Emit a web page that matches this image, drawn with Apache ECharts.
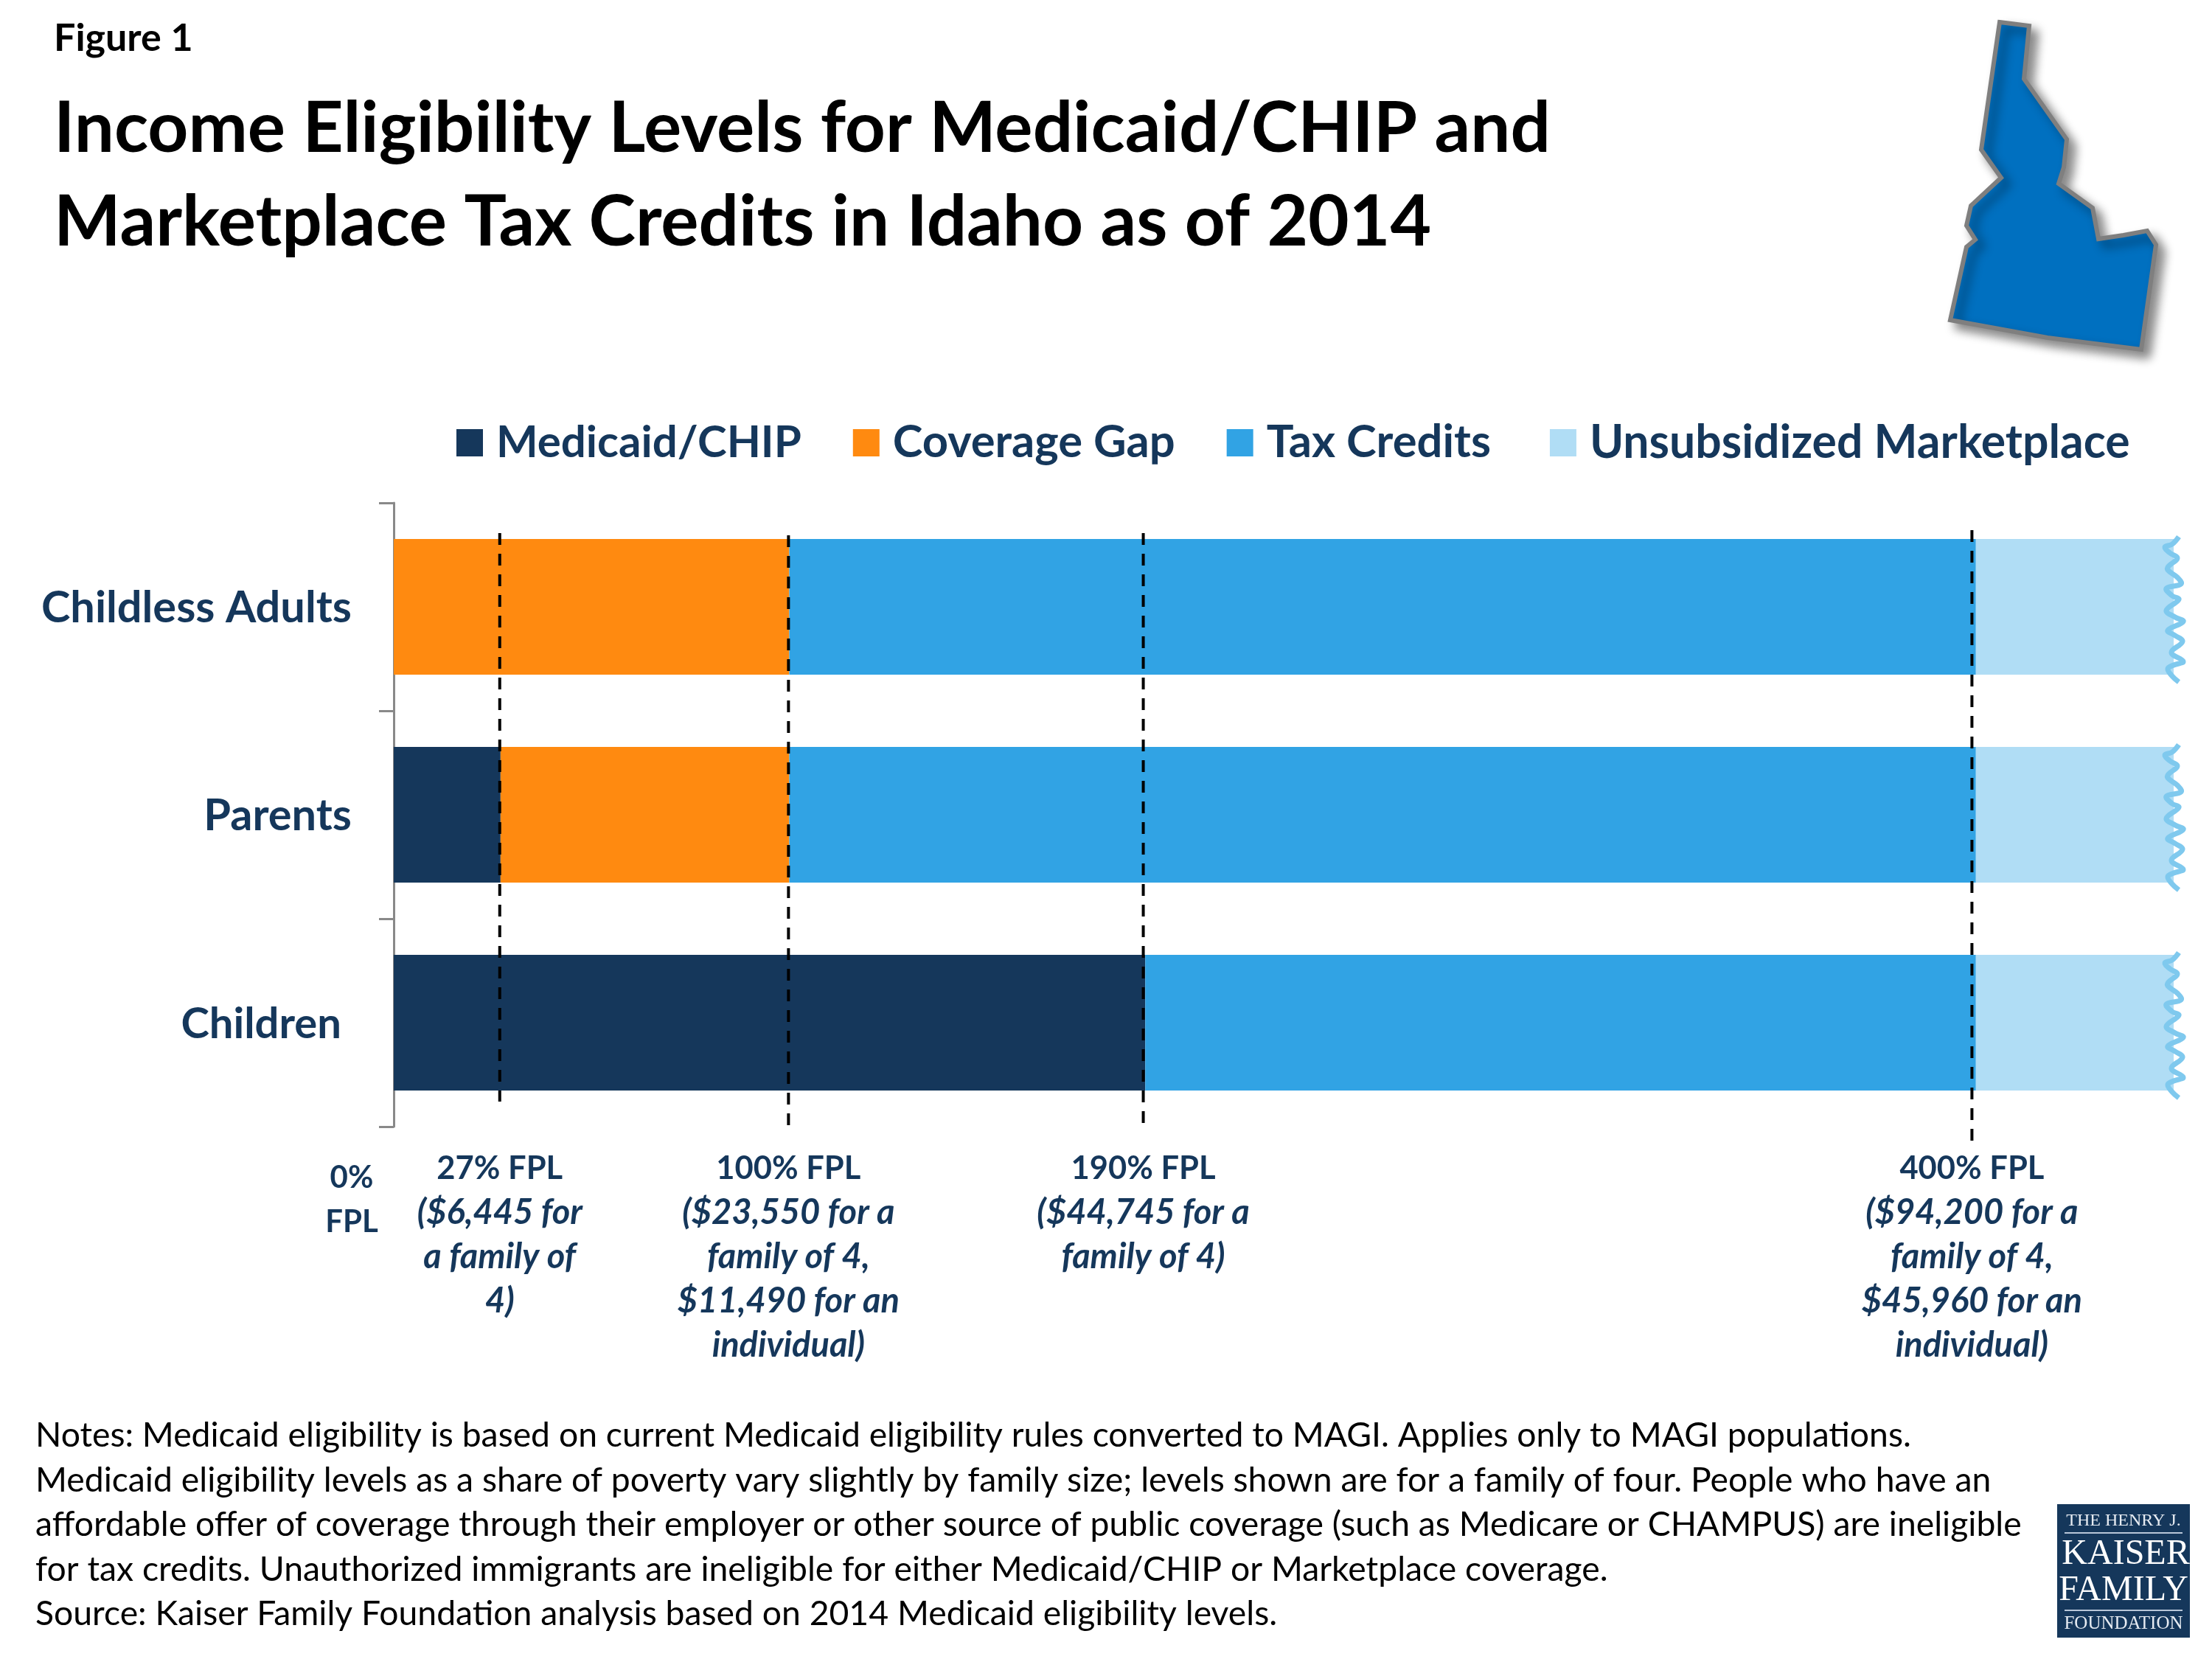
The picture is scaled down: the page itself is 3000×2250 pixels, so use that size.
<!DOCTYPE html>
<html>
<head>
<meta charset="utf-8">
<title>Figure 1</title>
<script src="https://cdn.jsdelivr.net/npm/echarts@6/dist/echarts.min.js"></script>
<style>
  html, body { margin: 0; padding: 0; background: #fff; }
  #chart { width: 3000px; height: 2250px; }
</style>
</head>
<body>
<div id="chart"></div>
<script>
const categories = ['Childless Adults', 'Parents', 'Children'];
const seriesNames = ['Medicaid/CHIP', 'Coverage Gap', 'Tax Credits', 'Unsubsidized Marketplace'];
const medicaid = [0, 27, 190];
const coverageGap = [100, 73, 0];
const taxCredits = [300, 300, 210];
const unsubsidized = [50, 50, 50];
const barEnd = [450, 450, 450];

// dashed lines sit a hair left of the bar edges in the original
const fplLines = [26.8, 99.8, 189.5, 399];
// line extents, counted in category rows from the top of the axis
const fplLineTop = [0.145, 0.156, 0.145, 0.131];
const fplLineBottom = [2.879, 2.993, 2.982, 3.067];
const fplHeads = ['27% FPL', '100% FPL', '190% FPL', '400% FPL'];
const fplDetails = [
  ['($6,445 for', 'a family of', '4)'],
  ['($23,550 for a', 'family of 4,', '$11,490 for an', 'individual)'],
  ['($44,745 for a', 'family of 4)'],
  ['($94,200 for a', 'family of 4,', '$45,960 for an', 'individual)']
];

const titleLines = ['Income Eligibility Levels for Medicaid/CHIP and', 'Marketplace Tax Credits in Idaho as of 2014'];
const noteLines = [
  'Notes: Medicaid eligibility is based on current Medicaid eligibility rules converted to MAGI. Applies only to MAGI populations.',
  'Medicaid eligibility levels as a share of poverty vary slightly by family size; levels shown are for a family of four. People who have an',
  'affordable offer of coverage through their employer or other source of public coverage (such as Medicare or CHAMPUS) are ineligible',
  'for tax credits. Unauthorized immigrants are ineligible for either Medicaid/CHIP or Marketplace coverage.',
  'Source: Kaiser Family Foundation analysis based on 2014 Medicaid eligibility levels.'
];

const NAVY = '#15375b';
const ORANGE = '#ff8a10';
const BLUE = '#31a3e4';
const LIGHT = '#b0ddf5';
const FONT = 'Lato';
const LABEL_FONT = 'Lato';

// torn edge of the last bar, px offsets from the bar end / row centre
const squiggleX = [7, -2, -12, -5, 5, -7, -8, 5, 10, -10, -2, 7, -10, 2, 13, -8, 2, 12, -3, 13, 0, -8, -2, 7];
const squiggleY = [-95, -85, -81, -73, -66, -55, -50, -40, -31, -25, -15, -10, 5, 14, 20, 32, 39, 47, 62, 74, 79, 84, 94, 102];

// outline of the state, px inside the top right corner box
const idahoX = [152, 192, 185, 243, 239, 232, 278, 286, 320, 352, 364, 344, 217, 85, 107, 119, 107, 113, 154, 127];
const idahoY = [30, 35, 107, 189, 227, 249, 282, 324, 319, 313, 332, 474, 458, 434, 335, 325, 306, 279, 241, 203];

function barSeries(name, values, color) {
  return {
    name: name,
    type: 'bar',
    stack: 'fpl',
    barWidth: 184,
    data: values,
    itemStyle: { color: color },
    z: 2
  };
}

const chart = echarts.init(document.getElementById('chart'), null, { renderer: 'canvas' });

const series = [
  barSeries(seriesNames[0], medicaid, NAVY),
  barSeries(seriesNames[1], coverageGap, ORANGE),
  barSeries(seriesNames[2], taxCredits, BLUE),
  barSeries(seriesNames[3], unsubsidized, LIGHT),
  {
    type: 'custom',
    silent: true,
    clip: false,
    z: 3,
    data: categories.map((c, i) => [barEnd[i], c]),
    encode: { x: 0, y: 1 },
    renderItem: function (params, api) {
      const end = api.coord([api.value(0), api.value(1)]);
      return {
        type: 'polyline',
        shape: { points: squiggleX.map((dx, k) => [end[0] + dx, end[1] + squiggleY[k]]), smooth: 0.4 },
        style: { stroke: '#7fc9ee', lineWidth: 7, lineJoin: 'round', fill: null }
      };
    }
  }
];

fplLines.forEach((v, i) => {
  series.push({
    type: 'line',
    yAxisIndex: 1,
    silent: true,
    clip: false,
    symbol: 'none',
    z: 4,
    data: [[v, fplLineTop[i]], [v, fplLineBottom[i]]],
    lineStyle: { color: '#000', width: 4, type: [16, 12] }
  });
});

const legendFontSizes = [60, 61.5, 61.5, 62.5];
const legendPadRight = [0, 0, 10, 0];

const option = {
  backgroundColor: '#fff',
  animation: false,
  title: [
    { text: 'Figure 1', left: 73, top: 26, padding: 0, textStyle: { fontFamily: FONT, fontWeight: 'bold', fontSize: 52, color: '#000' } },
    { text: titleLines.join('\n'), left: 73, top: 112, padding: 0, textStyle: { fontFamily: FONT, fontWeight: 'bold', fontSize: 96, lineHeight: 127, color: '#000' } },
    { text: noteLines.join('\n'), left: 48, top: 1917, padding: 0, textStyle: { fontFamily: FONT, fontWeight: 'normal', fontSize: 46.3, lineHeight: 60.5, color: '#000' } }
  ],
  legend: {
    left: 619,
    top: 569,
    padding: 0,
    itemWidth: 36,
    itemHeight: 37,
    itemGap: 70,
    icon: 'rect',
    selectedMode: false,
    data: seriesNames.map((n, i) => ({
      name: n,
      textStyle: {
        fontFamily: LABEL_FONT,
        fontWeight: 'bold',
        fontSize: legendFontSizes[i],
        lineHeight: 60,
        color: NAVY,
        padding: [0, legendPadRight[i], 0, 13]
      }
    })),
    textStyle: { fontFamily: LABEL_FONT, fontWeight: 'bold', fontSize: 62, lineHeight: 60, color: NAVY, padding: [0, 0, 0, 13] }
  },
  grid: { left: 534, top: 682, width: 2414, height: 846, containLabel: false },
  xAxis: {
    type: 'value',
    min: 0,
    max: 450,
    axisLine: { show: false },
    axisTick: { show: false },
    splitLine: { show: false },
    axisLabel: {
      customValues: fplLines,
      margin: 27,
      hideOverlap: false,
      align: 'center',
      verticalAlign: 'top',
      formatter: function (value) {
        const i = fplLines.indexOf(value);
        return ['{h|' + fplHeads[i] + '}'].concat(fplDetails[i].map(t => '{d|' + t + '}')).join('\n');
      },
      rich: {
        h: { fontFamily: FONT, fontWeight: 'bold', fontSize: 43.5, lineHeight: 60, color: NAVY, align: 'center' },
        d: { fontFamily: FONT, fontWeight: 'bold', fontStyle: 'italic', fontSize: 47, lineHeight: 60, color: NAVY, align: 'center' }
      }
    }
  },
  yAxis: [
    {
      type: 'category',
      inverse: true,
      data: categories,
      axisLine: { show: true, lineStyle: { color: '#898989', width: 3 } },
      axisTick: { show: true, length: 20, lineStyle: { color: '#898989', width: 3 } },
      axisLabel: {
        margin: 57,
        formatter: function (value) {
          return (value === 'Children' ? '{c|' : '{r|') + value + '}';
        },
        rich: {
          r: { fontFamily: LABEL_FONT, fontWeight: 'bold', fontSize: 59.5, color: NAVY, padding: [4, 0, 0, 0] },
          c: { fontFamily: LABEL_FONT, fontWeight: 'bold', fontSize: 58, color: NAVY, padding: [4, 14, 0, 0] }
        }
      }
    },
    { type: 'value', show: false, inverse: true, min: 0, max: 3, splitLine: { show: false } }
  ],
  series: series,
  graphic: [
    {
      type: 'text',
      z: 5,
      style: { x: 477, y: 1597, text: '0%', fill: NAVY, font: 'bold 42px ' + FONT, textAlign: 'center', textVerticalAlign: 'middle' }
    },
    {
      type: 'text',
      z: 5,
      style: { x: 477, y: 1657, text: 'FPL', fill: NAVY, font: 'bold 42px ' + FONT, textAlign: 'center', textVerticalAlign: 'middle' }
    },
    {
      type: 'polygon',
      z: 5,
      x: 2560,
      y: 0,
      shape: { points: idahoX.map((x, i) => [x, idahoY[i]]) },
      style: {
        fill: '#0070c0',
        stroke: '#7f7f7f',
        lineWidth: 6,
        lineJoin: 'miter',
        shadowBlur: 14,
        shadowOffsetX: 9,
        shadowOffsetY: 9,
        shadowColor: 'rgba(0,0,0,0.45)'
      }
    },
    // Kaiser logo
    { type: 'rect', z: 5, shape: { x: 2790, y: 2040, width: 180, height: 181 }, style: { fill: NAVY } },
    { type: 'rect', z: 6, shape: { x: 2800, y: 2078, width: 160, height: 2 }, style: { fill: '#b8c6d8' } },
    { type: 'rect', z: 6, shape: { x: 2800, y: 2183, width: 160, height: 2 }, style: { fill: '#b8c6d8' } },
    { type: 'text', z: 6, style: { x: 2880, y: 2063, text: 'THE HENRY J.', fill: '#e6ebf2', font: '24px "Liberation Serif"', textAlign: 'center', textVerticalAlign: 'middle' } },
    { type: 'text', z: 6, style: { x: 2883, y: 2108, text: 'KAISER', fill: '#ffffff', font: '48px "Liberation Serif"', textAlign: 'center', textVerticalAlign: 'middle' } },
    { type: 'text', z: 6, style: { x: 2880, y: 2157, text: 'FAMILY', fill: '#ffffff', font: '48px "Liberation Serif"', textAlign: 'center', textVerticalAlign: 'middle' } },
    { type: 'text', z: 6, style: { x: 2880, y: 2202, text: 'FOUNDATION', fill: '#e6ebf2', font: '25px "Liberation Serif"', textAlign: 'center', textVerticalAlign: 'middle' } }
  ]
};

chart.setOption(option);
</script>
</body>
</html>
